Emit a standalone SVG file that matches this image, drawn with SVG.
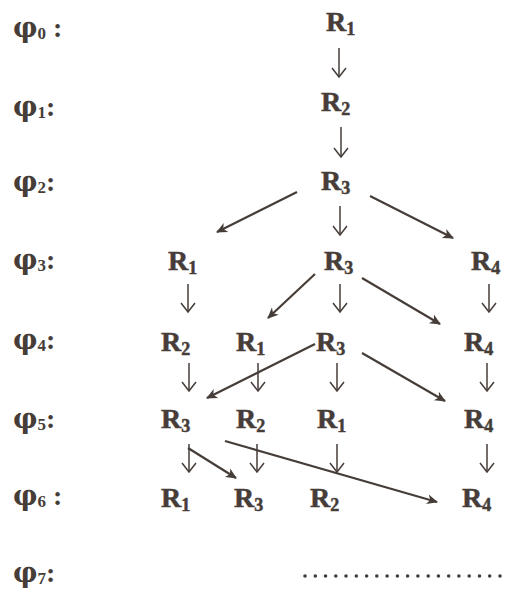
<svg xmlns="http://www.w3.org/2000/svg" width="508" height="590" viewBox="0 0 508 590">
<defs>
<style>
.lbl{font-family:"Liberation Serif","Times New Roman",serif;font-weight:bold;font-size:28px;fill:#463d38}
.phi{font-family:"DejaVu Serif","Liberation Serif",serif;font-size:27px}
.sub{font-size:17px}
.r{font-family:"Liberation Serif","Times New Roman",serif;font-weight:bold;font-size:28px;fill:#463d38;stroke:#463d38;stroke-width:0.5}
.rs{font-size:18px}
.v{stroke:#463d38;stroke-width:1.5;fill:none;marker-end:url(#vh)}
.d{stroke:#463d38;stroke-width:2.2;fill:none;marker-end:url(#dh)}
.dot{fill:#463d38}
</style>
<marker id="vh" markerUnits="userSpaceOnUse" markerWidth="12" markerHeight="16" viewBox="-10 -8 12 16" refX="0" refY="0" orient="auto">
<path d="M-9,-7 L0,0 L-9,7" fill="none" stroke="#463d38" stroke-width="1.5"/>
</marker>
<marker id="dh" markerUnits="userSpaceOnUse" markerWidth="14" markerHeight="14" viewBox="-12 -7 14 14" refX="0" refY="0" orient="auto">
<path d="M-10,-5 L1,0 L-10,5 L-7,0 Z" fill="#463d38"/>
</marker>
</defs>
<g id="labels">
<text id="phi0" class="lbl" x="13" y="37"><tspan class="phi">φ</tspan><tspan class="sub" dy="2">0</tspan><tspan dy="-2"> :</tspan></text>
<text id="phi1" class="lbl" x="13" y="116"><tspan class="phi">φ</tspan><tspan class="sub" dy="2">1</tspan><tspan dy="-2">:</tspan></text>
<text id="phi2" class="lbl" x="13" y="191"><tspan class="phi">φ</tspan><tspan class="sub" dy="2">2</tspan><tspan dy="-2">:</tspan></text>
<text id="phi3" class="lbl" x="13" y="269"><tspan class="phi">φ</tspan><tspan class="sub" dy="2">3</tspan><tspan dy="-2">:</tspan></text>
<text id="phi4" class="lbl" x="13" y="349"><tspan class="phi">φ</tspan><tspan class="sub" dy="2">4</tspan><tspan dy="-2">:</tspan></text>
<text id="phi5" class="lbl" x="13" y="428"><tspan class="phi">φ</tspan><tspan class="sub" dy="2">5</tspan><tspan dy="-2">:</tspan></text>
<text id="phi6" class="lbl" x="13" y="505"><tspan class="phi">φ</tspan><tspan class="sub" dy="2">6</tspan><tspan dy="-2"> :</tspan></text>
<text id="phi7" class="lbl" x="13" y="582"><tspan class="phi">φ</tspan><tspan class="sub" dy="2">7</tspan><tspan dy="-2">:</tspan></text>
</g>
<g id="n0"><text class="r" x="326" y="31">R<tspan class="rs" dy="4">1</tspan></text></g>
<g id="n1"><text class="r" x="321" y="111">R<tspan class="rs" dy="4">2</tspan></text></g>
<g id="n2"><text class="r" x="321" y="190">R<tspan class="rs" dy="4">3</tspan></text></g>
<g id="n3a"><text class="r" x="168" y="270">R<tspan class="rs" dy="4">1</tspan></text></g>
<g id="n3c"><text class="r" x="324" y="270">R<tspan class="rs" dy="4">3</tspan></text></g>
<g id="n3d"><text class="r" x="471" y="270">R<tspan class="rs" dy="4">4</tspan></text></g>
<g id="n4a"><text class="r" x="161" y="351">R<tspan class="rs" dy="4">2</tspan></text></g>
<g id="n4b"><text class="r" x="236" y="351">R<tspan class="rs" dy="4">1</tspan></text></g>
<g id="n4c"><text class="r" x="316" y="351">R<tspan class="rs" dy="4">3</tspan></text></g>
<g id="n4d"><text class="r" x="464" y="351">R<tspan class="rs" dy="4">4</tspan></text></g>
<g id="n5a"><text class="r" x="161" y="428">R<tspan class="rs" dy="4">3</tspan></text></g>
<g id="n5b"><text class="r" x="236" y="428">R<tspan class="rs" dy="4">2</tspan></text></g>
<g id="n5c"><text class="r" x="317" y="428">R<tspan class="rs" dy="4">1</tspan></text></g>
<g id="n5d"><text class="r" x="464" y="428">R<tspan class="rs" dy="4">4</tspan></text></g>
<g id="n6a"><text class="r" x="161" y="507">R<tspan class="rs" dy="4">1</tspan></text></g>
<g id="n6b"><text class="r" x="234" y="507">R<tspan class="rs" dy="4">3</tspan></text></g>
<g id="n6c"><text class="r" x="310" y="507">R<tspan class="rs" dy="4">2</tspan></text></g>
<g id="n6d"><text class="r" x="462" y="507">R<tspan class="rs" dy="4">4</tspan></text></g>
<g id="connectors">
<line class="v" x1="339" y1="48" x2="339" y2="77"/>
<line class="v" x1="341" y1="127" x2="341" y2="157"/>
<line class="v" x1="340" y1="206" x2="340" y2="235"/>
<line class="v" x1="188" y1="284" x2="188" y2="312"/>
<line class="v" x1="340" y1="284" x2="340" y2="312"/>
<line class="v" x1="489" y1="284" x2="489" y2="312"/>
<line class="v" x1="189" y1="363" x2="189" y2="391"/>
<line class="v" x1="258" y1="363" x2="258" y2="391"/>
<line class="v" x1="337" y1="363" x2="337" y2="391"/>
<line class="v" x1="487" y1="363" x2="487" y2="391"/>
<line class="v" x1="189" y1="444" x2="189" y2="472"/>
<line class="v" x1="257" y1="444" x2="257" y2="472"/>
<line class="v" x1="337" y1="444" x2="337" y2="472"/>
<line class="v" x1="487" y1="444" x2="487" y2="472"/>
<line class="d" x1="297" y1="192" x2="217" y2="232"/>
<line class="d" x1="370" y1="196" x2="453" y2="238"/>
<line class="d" x1="315" y1="274" x2="268" y2="318"/>
<line class="d" x1="362" y1="278" x2="440" y2="324"/>
<line class="d" x1="315" y1="344" x2="207" y2="398"/>
<line class="d" x1="362" y1="353" x2="445" y2="401"/>
<line class="d" x1="188" y1="448" x2="236" y2="478"/>
<line class="d" x1="225" y1="441" x2="437" y2="502"/>
</g>
<g id="ellipsis">
<circle class="dot" cx="305" cy="576" r="1.8"/><circle class="dot" cx="315.3" cy="576" r="1.8"/><circle class="dot" cx="325.5" cy="576" r="1.8"/><circle class="dot" cx="335.8" cy="576" r="1.8"/><circle class="dot" cx="346" cy="576" r="1.8"/><circle class="dot" cx="356.3" cy="576" r="1.8"/><circle class="dot" cx="366.6" cy="576" r="1.8"/><circle class="dot" cx="376.8" cy="576" r="1.8"/><circle class="dot" cx="387.1" cy="576" r="1.8"/><circle class="dot" cx="397.4" cy="576" r="1.8"/><circle class="dot" cx="407.6" cy="576" r="1.8"/><circle class="dot" cx="417.9" cy="576" r="1.8"/><circle class="dot" cx="428.2" cy="576" r="1.8"/><circle class="dot" cx="438.4" cy="576" r="1.8"/><circle class="dot" cx="448.7" cy="576" r="1.8"/><circle class="dot" cx="458.9" cy="576" r="1.8"/><circle class="dot" cx="469.2" cy="576" r="1.8"/><circle class="dot" cx="479.5" cy="576" r="1.8"/><circle class="dot" cx="489.7" cy="576" r="1.8"/><circle class="dot" cx="500" cy="576" r="1.8"/>
</g>
</svg>
